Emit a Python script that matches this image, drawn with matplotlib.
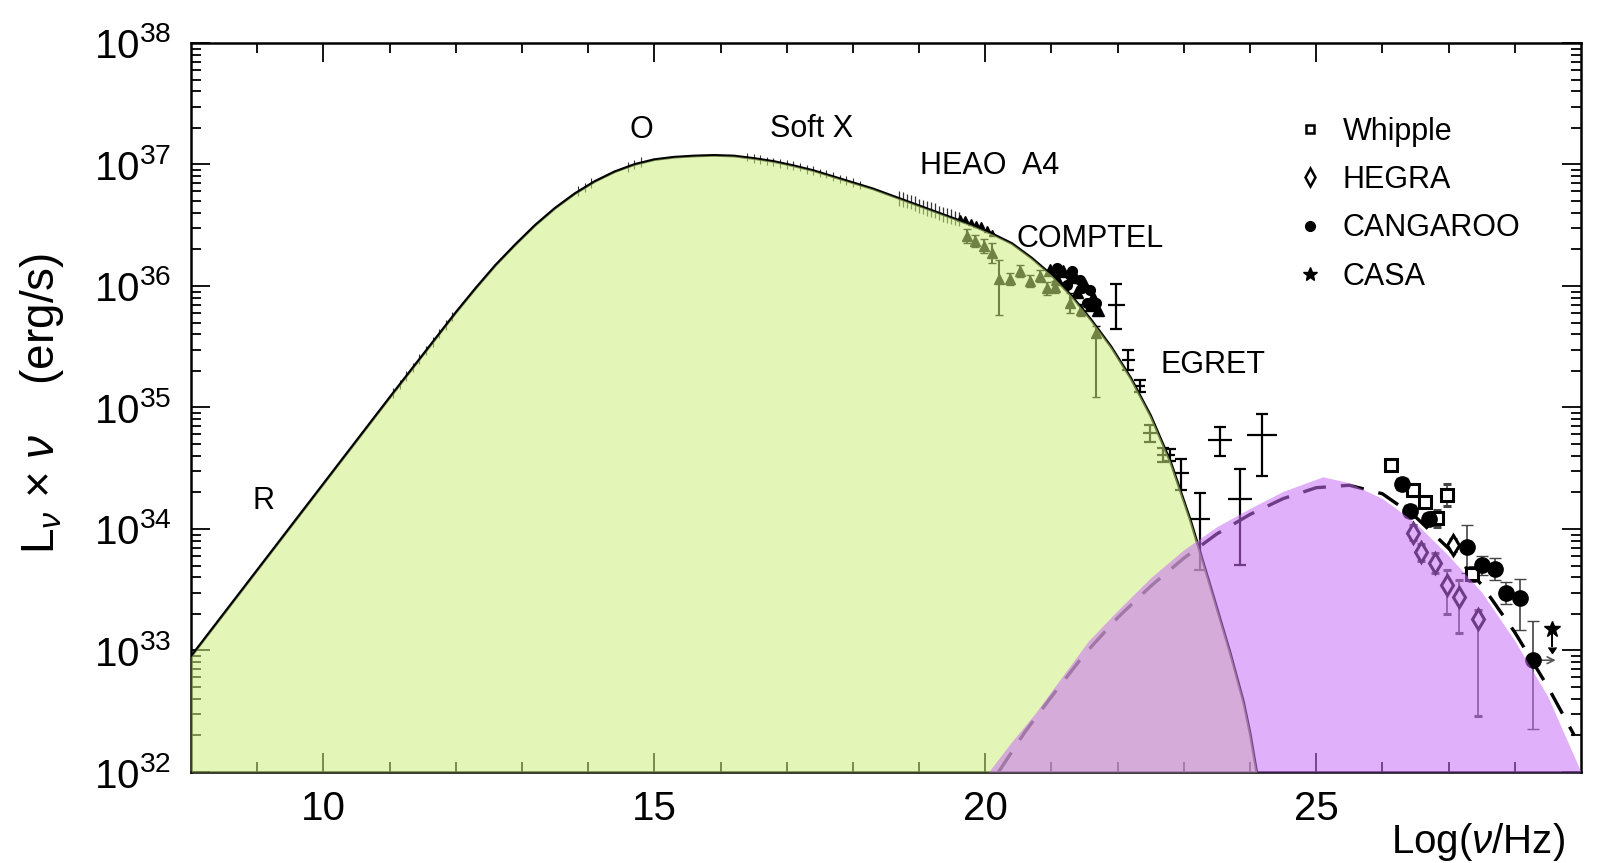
import numpy as np
import matplotlib
matplotlib.use("Agg")
import matplotlib.pyplot as plt
from matplotlib.ticker import FixedLocator, FuncFormatter, NullFormatter
from matplotlib.lines import Line2D
from matplotlib.patches import FancyArrowPatch

plt.rcParams['font.family'] = ['Liberation Sans', 'DejaVu Sans']
plt.rcParams['mathtext.fontset'] = 'custom'
plt.rcParams['mathtext.rm'] = 'Liberation Sans'
plt.rcParams['mathtext.it'] = 'Liberation Sans:italic'

# synchrotron model (log nu, log nuL_nu)
syn_x = [8.0, 9.0, 10.0, 11.0, 11.5, 12.0, 12.3, 12.6, 12.9, 13.2, 13.5, 13.8, 14.1,
         14.4, 14.7, 15.0, 15.3, 15.6, 15.9, 16.2, 16.5, 16.8, 17.1, 17.4, 17.7, 18.0,
         18.3, 18.6, 18.9, 19.2, 19.5, 19.8, 20.1, 20.4, 20.7, 21.0, 21.3, 21.6, 21.9,
         22.2, 22.5, 22.8, 23.1, 23.4, 23.7, 23.9, 24.0, 24.1]
syn_y = [32.95, 33.66, 34.37, 35.08, 35.43, 35.78, 35.98, 36.17, 36.34, 36.50, 36.64,
         36.76, 36.86, 36.94, 37.00, 37.04, 37.06, 37.07, 37.075, 37.07, 37.05, 37.025,
         36.99, 36.95, 36.90, 36.85, 36.80, 36.74, 36.68, 36.62, 36.56, 36.50, 36.43,
         36.35, 36.23, 36.09, 35.92, 35.72, 35.50, 35.24, 34.93, 34.55, 34.07, 33.53,
         32.98, 32.58, 32.32, 32.0]

# inverse Compton component (filled) and dashed model
ic_x = [20.05, 20.4, 20.75, 21.1, 21.56, 22.0, 22.5, 23.0, 23.5, 24.0, 24.5, 25.1,
        25.5, 26.0, 26.5, 27.0, 27.5, 28.0, 28.5, 29.0]
ic_y = [32.0, 32.25, 32.48, 32.74, 33.08, 33.33, 33.6, 33.83, 34.02, 34.17, 34.31,
        34.43, 34.38, 34.25, 34.05, 33.78, 33.48, 33.08, 32.62, 32.0]
icd_x = [20.2, 20.6, 21.0, 21.5, 22.0, 22.5, 23.0, 23.5, 24.0, 24.5, 25.0, 25.5,
         26.0, 26.5, 27.0, 27.5, 28.0, 28.5, 28.9]
icd_y = [32.0, 32.33, 32.62, 32.97, 33.27, 33.53, 33.76, 33.96, 34.12, 34.25, 34.34,
         34.36, 34.29, 34.10, 33.84, 33.54, 33.15, 32.70, 32.30]

# low energy data (tiny error bars hugging the curve)
radio_x = [11.05, 11.15, 11.25, 11.35, 11.45, 11.55, 11.65, 11.75, 11.85, 11.95]
radio_y = [35.12, 35.19, 35.26, 35.33, 35.40, 35.47, 35.54, 35.61, 35.68, 35.75]
opt_x = [13.85, 13.95, 14.05, 14.6, 14.7, 14.8]
opt_y = [36.78, 36.81, 36.85, 36.98, 37.00, 37.02]
softx_x = [16.4, 16.5, 16.6, 16.7, 16.8, 16.9, 17.0, 17.1, 17.2, 17.3, 17.4, 17.5,
           17.6, 17.7, 17.8, 17.9, 18.0, 18.1]
softx_y = [37.06, 37.05, 37.04, 37.03, 37.02, 37.01, 37.00, 36.99, 36.98, 36.96,
           36.95, 36.93, 36.92, 36.90, 36.88, 36.87, 36.85, 36.83]
heao_x = [18.70, 18.76, 18.82, 18.88, 18.94, 19.00, 19.06, 19.12, 19.18, 19.24,
          19.30, 19.36, 19.42, 19.48, 19.54, 19.60]
heao_y = [36.72, 36.71, 36.70, 36.69, 36.68, 36.66, 36.65, 36.64, 36.63, 36.62,
          36.60, 36.59, 36.58, 36.57, 36.56, 36.55]
hard_x = [19.62, 19.70, 19.78, 19.86, 19.94, 20.02, 20.10]
hard_y = [36.56, 36.55, 36.53, 36.51, 36.50, 36.47, 36.44]

comptel_x = [19.72, 19.85, 19.98, 20.10, 20.20, 20.37, 20.52, 20.68, 20.83, 20.93,
             21.05, 21.28, 21.45, 21.68]
comptel_y = [36.41, 36.37, 36.33, 36.27, 36.06, 36.06, 36.12, 36.04, 36.08, 35.98,
             35.99, 35.86, 35.80, 35.61]
comptel_lo = [36.35, 36.32, 36.27, 36.19, 35.76, 36.01, 36.07, 35.99, 36.03, 35.93,
              35.94, 35.78, 35.75, 35.09]
comptel_hi = [36.47, 36.42, 36.39, 36.35, 36.21, 36.11, 36.17, 36.09, 36.13, 36.03,
              36.04, 35.94, 35.85, 35.67]

cluster_x = [20.98, 21.08, 21.18, 21.28, 21.36, 21.43, 21.51, 21.58, 21.63, 21.68,
             21.71, 21.53, 21.38, 21.23, 21.08, 21.46, 21.60, 21.31]
cluster_y = [36.13, 36.15, 36.12, 36.09, 36.07, 36.05, 36.01, 35.97, 35.91, 35.86,
             35.80, 35.86, 35.95, 36.01, 36.06, 35.98, 35.84, 36.12]

egret_x = [21.98, 22.16, 22.33, 22.49, 22.69, 22.79, 22.96, 23.24, 23.55, 23.85, 24.18]
egret_y = [35.84, 35.39, 35.18, 34.79, 34.61, 34.61, 34.46, 34.08, 34.73, 34.25, 34.77]
egret_xerr = [0.13, 0.10, 0.08, 0.10, 0.10, 0.08, 0.12, 0.15, 0.18, 0.18, 0.22]
egret_lo = [35.65, 35.31, 35.13, 34.72, 34.55, 34.56, 34.32, 33.66, 34.60, 33.70, 34.44]
egret_hi = [36.02, 35.47, 35.23, 34.86, 34.67, 34.66, 34.58, 34.30, 34.84, 34.49, 34.95]

whipple_x = [26.13, 26.46, 26.64, 26.82, 26.97, 27.35]
whipple_y = [34.53, 34.32, 34.22, 34.09, 34.28, 33.63]
whipple_lo = [34.49, 34.27, 34.17, 34.02, 34.19, 33.57]
whipple_hi = [34.57, 34.37, 34.27, 34.16, 34.37, 33.69]

hegra_x = [26.46, 26.59, 26.79, 26.97, 27.07, 27.16, 27.45]
hegra_y = [33.97, 33.81, 33.72, 33.54, 33.87, 33.44, 33.26]
hegra_lo = [33.91, 33.74, 33.64, 33.30, 33.82, 33.14, 32.46]
hegra_hi = [34.03, 33.88, 33.80, 33.66, 33.92, 33.58, 33.33]

cang_x = [26.30, 26.42, 26.70, 27.28, 27.50, 27.70, 27.87, 28.08, 28.28]
cang_y = [34.37, 34.15, 34.08, 33.85, 33.70, 33.67, 33.47, 33.43, 32.92]
cang_lo = [34.32, 34.10, 34.03, 33.64, 33.62, 33.58, 33.38, 33.17, 32.35]
cang_hi = [34.42, 34.20, 34.13, 34.03, 33.78, 33.76, 33.56, 33.59, 33.24]

casa_x = [28.56]
casa_y = [33.18]

x_major = [10, 15, 20, 25]
x_minor = [9, 11, 12, 13, 14, 16, 17, 18, 19, 21, 22, 23, 24, 26, 27, 28]
y_decades = [32, 33, 34, 35, 36, 37, 38]


def lin(v):
    return 10.0 ** np.asarray(v, dtype=float)


def yerr(y, lo, hi):
    return [lin(y) - lin(lo), lin(hi) - lin(y)]


fig = plt.figure(figsize=(16.04, 8.63), dpi=100)
ax = fig.add_axes([191 / 1604, 1 - 772 / 863, 1390 / 1604, 729 / 863])
ax.set_yscale('log')

# data first (fills are drawn semi transparent on top)
for xs, ys, d, lw in [(radio_x, radio_y, 0.04, 0.8), (opt_x, opt_y, 0.04, 0.8),
                      (softx_x, softx_y, 0.035, 0.8), (heao_x, heao_y, 0.06, 0.9)]:
    ys = np.asarray(ys)
    ax.errorbar(xs, lin(ys), yerr=yerr(ys, ys - d, ys + d), fmt='none',
                ecolor='#333333', elinewidth=lw, zorder=2)
ax.plot(hard_x, lin(hard_y), '^', color='k', ms=5, zorder=2)
ax.errorbar(comptel_x, lin(comptel_y), yerr=yerr(comptel_y, comptel_lo, comptel_hi),
            fmt='^', color='k', ms=7, elinewidth=1.5, capsize=3, zorder=2)
ax.plot(cluster_x[::2], lin(cluster_y[::2]), '^', color='k', ms=8, zorder=2)
ax.plot(cluster_x[1::2], lin(cluster_y[1::2]), 'o', color='k', ms=7, zorder=2)
ax.errorbar(egret_x, lin(egret_y), yerr=yerr(egret_y, egret_lo, egret_hi), fmt='none',
            ecolor='k', elinewidth=1.6, capsize=4, capthick=1.6, zorder=2)
ax.errorbar(egret_x, lin(egret_y), xerr=egret_xerr, fmt='none', ecolor='k',
            elinewidth=1.6, capsize=0, zorder=2)

ax.errorbar(whipple_x, lin(whipple_y), yerr=yerr(whipple_y, whipple_lo, whipple_hi),
            fmt='s', mfc='white', mec='k', mew=2.2, ms=8, ecolor='#444444',
            elinewidth=1.2, capsize=3, zorder=2)
ax.errorbar(hegra_x, lin(hegra_y), yerr=yerr(hegra_y, hegra_lo, hegra_hi),
            fmt='d', mfc='white', mec='k', mew=2.2, ms=10, ecolor='#444444',
            elinewidth=1.2, capsize=3, zorder=2)
ax.errorbar(cang_x, lin(cang_y), yerr=yerr(cang_y, cang_lo, cang_hi),
            fmt='o', color='k', ms=11, ecolor='#444444', elinewidth=1.2,
            capsize=4, zorder=2)
ax.errorbar(casa_x, lin(casa_y), yerr=[lin(casa_y) * 0.3], uplims=True, fmt='*',
            color='k', ms=12, elinewidth=1.4, capsize=3, zorder=2)
ax.add_patch(FancyArrowPatch((28.36, lin(cang_y[-1])), (28.66, lin(cang_y[-1])),
                             arrowstyle='->', mutation_scale=12, color='#555555',
                             lw=1.2, zorder=2))

# model curves
ax.plot(syn_x, lin(syn_y), color='k', lw=2.0, zorder=2)
ax.plot(icd_x, lin(icd_y), color='k', lw=2.4, dashes=(7, 4.5), zorder=2)

# shaded components
ax.fill_between(syn_x, 1e32, lin(syn_y), color=(205/255, 240/255, 125/255),
                alpha=0.55, lw=0, zorder=3)
ax.fill_between(ic_x, 1e32, lin(ic_y), color=(202/255, 111/255, 246/255),
                alpha=0.55, lw=0, zorder=4)

# band labels
fs_lab = 22
ax.text(9.09, lin(34.23), 'R', fontsize=fs_lab, ha='center', va='center')
ax.text(14.81, lin(37.28), 'O', fontsize=fs_lab, ha='center', va='center')
ax.text(17.37, lin(37.29), 'Soft X', fontsize=fs_lab, ha='center', va='center')
ax.text(20.06, lin(36.99), 'HEAO  A4', fontsize=fs_lab, ha='center', va='center')
ax.text(21.59, lin(36.39), 'COMPTEL', fontsize=fs_lab, ha='center', va='center')
ax.text(23.44, lin(35.35), 'EGRET', fontsize=fs_lab, ha='center', va='center')

# legend
handles = [
    Line2D([], [], ls='none', marker='s', ms=6, mfc='white', mec='k', mew=1.8),
    Line2D([], [], ls='none', marker='d', ms=9, mfc='white', mec='k', mew=1.8),
    Line2D([], [], ls='none', marker='o', ms=7, color='k'),
    Line2D([], [], ls='none', marker='*', ms=10, color='k'),
]
ax.legend(handles, ['Whipple', 'HEGRA', 'CANGAROO', 'CASA'], loc='upper left',
          bbox_to_anchor=(0.794, 0.899), frameon=False, fontsize=22,
          handlelength=1.0, handletextpad=0.58, labelspacing=0.60,
          borderpad=0, borderaxespad=0)

ax.set_xlim(8, 29)
ax.set_ylim(1e32, 1e38)

ax.xaxis.set_major_locator(FixedLocator(x_major))
ax.xaxis.set_minor_locator(FixedLocator(x_minor))
ax.yaxis.set_major_locator(FixedLocator(lin(y_decades)))
ax.yaxis.set_minor_locator(FixedLocator(
    [k * 10.0 ** e for e in y_decades[:-1] for k in range(2, 10)]))
ax.yaxis.set_minor_formatter(NullFormatter())
ax.yaxis.set_major_formatter(FuncFormatter(
    lambda v, p: r'$\mathregular{10^{%d}}$' % int(round(np.log10(v)))))

ax.tick_params(which='both', direction='in', top=True, right=True, width=1.3)
ax.tick_params(which='major', length=13.5, labelsize=29)
ax.tick_params(which='minor', length=7)
ax.tick_params(axis='x', which='major', pad=13)
ax.tick_params(axis='y', which='major', pad=14)
for s in ax.spines.values():
    s.set_linewidth(1.8)

ax.set_ylabel(r'L$_\nu$ $\times$ $\nu$    (erg/s)', fontsize=33, va='center')
ax.yaxis.set_label_coords(-0.107, 0.505)
ax.set_xlabel(r'Log($\nu$/Hz)', fontsize=29, ha='right', va='center')
ax.xaxis.set_label_coords(0.9885, -0.096)

fig.savefig('out.png', dpi=100)
